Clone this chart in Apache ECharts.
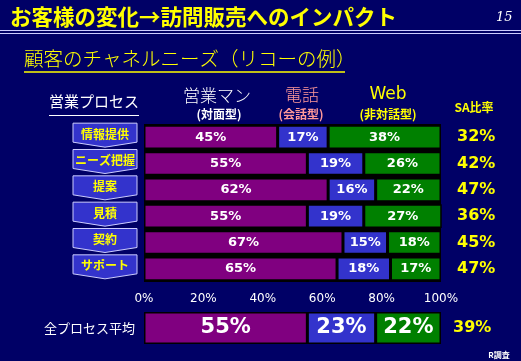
<!DOCTYPE html>
<html><head><meta charset="utf-8">
<script src="https://cdn.jsdelivr.net/npm/echarts@6/dist/echarts.min.js"></script>
<style>html,body{margin:0;padding:0;background:#000066;}#c{width:521px;height:361px;}</style>
</head><body><div id="c"></div>
<script>
const categories = ['情報提供','ニーズ把握','提案','見積','契約','サポート'];
const faceToFace = [45,55,62,55,67,65];
const phone = [17,19,16,19,15,18];
const web = [38,26,22,27,18,17];
const saRatio = [32,42,47,36,45,47];
const avgCategory = ['全プロセス平均'];
const avgFace = [55];
const avgPhone = [23];
const avgWeb = [22];
const avgSA = [39];
const xMin = 0, xMax = 100, xInterval = 20;

const JP = '"Noto Sans CJK JP", sans-serif';
const NUM = '"DejaVu Sans", sans-serif';
const pct = v => v + '%';

const chart = echarts.init(document.getElementById('c'), null, {renderer:'canvas'});

function barSeries(name, data, color, xi, yi, fs) {
  return {
    type:'bar', name, data, stack: 'g'+xi, xAxisIndex:xi, yAxisIndex:yi,
    barCategoryGap: xi === 0 ? '10%' : '0%',
    itemStyle:{color, borderColor:'#000', borderWidth:1.5},
    label:{show:true, position:'inside', formatter: p => pct(p.value),
      color:'#fff', fontFamily:NUM, fontWeight:'bold', fontSize:fs},
    emphasis:{disabled:true}, animation:false
  };
}

const option = {
  backgroundColor:'#000066',
  animation:false,
  textStyle:{fontFamily:JP},
  grid:[
    {left:144, right:80, top:124, height:158, show:true, backgroundColor:'#000', borderWidth:0},
    {left:144, right:80, top:312, height:32, show:true, backgroundColor:'#000', borderWidth:0}
  ],
  xAxis:[
    {gridIndex:0, type:'value', min:xMin, max:xMax, interval:xInterval,
     axisLine:{show:false}, axisTick:{show:false}, splitLine:{show:false},
     axisLabel:{color:'#fff', fontFamily:NUM, fontSize:12, margin:11, formatter:'{value}%'}},
    {gridIndex:1, type:'value', min:xMin, max:xMax, show:false}
  ],
  yAxis:[
    {gridIndex:0, type:'category', data:categories, inverse:true, axisLabel:{show:false},
     axisLine:{show:false}, axisTick:{show:false}},
    {gridIndex:0, type:'category', data:saRatio.map(pct), inverse:true, position:'right',
     axisLine:{show:false}, axisTick:{show:false},
     axisLabel:{color:'#ffff00', fontFamily:NUM, fontWeight:'bold', fontSize:16, margin:16, align:'left'}},
    {gridIndex:1, type:'category', data:avgCategory,
     axisLine:{show:false}, axisTick:{show:false},
     axisLabel:{color:'#fff', fontFamily:JP, fontSize:13, margin:9}},
    {gridIndex:1, type:'category', data:avgSA.map(pct), position:'right',
     axisLine:{show:false}, axisTick:{show:false},
     axisLabel:{color:'#ffff00', fontFamily:NUM, fontWeight:'bold', fontSize:16, margin:12, align:'left'}}
  ],
  series:[
    barSeries('営業マン', faceToFace, '#800080', 0, 0, 13),
    barSeries('電話', phone, '#3333cc', 0, 0, 13),
    barSeries('Web', web, '#008000', 0, 0, 13),
    barSeries('営業マン', avgFace, '#800080', 1, 2, 21),
    barSeries('電話', avgPhone, '#3333cc', 1, 2, 21),
    barSeries('Web', avgWeb, '#008000', 1, 2, 21),
    {
      type:'custom', xAxisIndex:0, yAxisIndex:0, clip:false, silent:true, z:5,
      data: categories.map((c,i)=>[0,i]),
      encode:{x:0, y:1},
      renderItem:function(params, api){
        const p = api.coord([0, api.value(1)]);
        const x0 = p[0]-71, x1 = p[0]-7, yc = p[1], xm = (x0+x1)/2;
        return {type:'group', children:[
          {type:'polygon', shape:{points:[[x0,yc-14],[x1,yc-14],[x1,yc+5],[xm,yc+10],[x0,yc+5]]},
           style:{fill:'#3333cc', stroke:'#ccccff', lineWidth:1}},
          {type:'text', style:{text:categories[params.dataIndex], x:xm, y:yc-3, align:'center', verticalAlign:'middle',
           fill:'#ffff00', font:'bold 12px "Noto Sans CJK JP"'}}
        ]};
      }
    }
  ],
  graphic:[
    {type:'text', left:10, top:6, style:{text:'お客様の変化→訪問販売へのインパクト', fill:'#ffff00', font:'bold 21.5px "Noto Sans CJK JP"'}},
    {type:'text', left:496, top:11, style:{text:'15', fill:'#fff', font:'italic 13px "DejaVu Serif"'}},
    {type:'line', shape:{x1:0,y1:30.5,x2:521,y2:30.5}, style:{stroke:'#ccccff', lineWidth:1.2}},
    {type:'line', shape:{x1:0,y1:33.5,x2:521,y2:33.5}, style:{stroke:'#ccccff', lineWidth:1.2}},
    {type:'text', left:24, top:49, style:{text:'顧客のチャネルニーズ（リコーの例）', fill:'#ffff00', font:'300 19.5px "Noto Sans CJK JP"'}},
    {type:'line', shape:{x1:24,y1:72,x2:345,y2:72}, style:{stroke:'#ffff00', lineWidth:1.5}},
    {type:'text', left:49, top:94, style:{text:'営業プロセス', fill:'#fff', font:'15px "Noto Sans CJK JP"'}},
    {type:'line', shape:{x1:49,y1:115.5,x2:139,y2:115.5}, style:{stroke:'#fff', lineWidth:1.2}},
    {type:'text', x:217, y:96, style:{text:'営業マン', fill:'#fff', font:'300 17px "Noto Sans CJK JP"', align:'center', verticalAlign:'middle'}},
    {type:'text', x:219, y:114, style:{text:'(対面型)', fill:'#fff', font:'bold 12px "Noto Sans CJK JP"', align:'center', verticalAlign:'middle'}},
    {type:'text', x:302, y:95, style:{text:'電話', fill:'#ff9999', font:'300 17px "Noto Sans CJK JP"', align:'center', verticalAlign:'middle'}},
    {type:'text', x:301, y:114, style:{text:'(会話型)', fill:'#ff9999', font:'bold 12px "Noto Sans CJK JP"', align:'center', verticalAlign:'middle'}},
    {type:'text', x:388, y:95, style:{text:'Web', fill:'#ffff00', font:'17px "DejaVu Sans"', align:'center', verticalAlign:'middle'}},
    {type:'text', x:388, y:114, style:{text:'(非対話型)', fill:'#ffff00', font:'bold 12px "Noto Sans CJK JP"', align:'center', verticalAlign:'middle'}},
    {type:'text', x:474, y:107, style:{text:'SA比率', fill:'#ffff00', font:'bold 12px "Noto Sans CJK JP"', align:'center', verticalAlign:'middle'}},
    {type:'text', x:499, y:355, style:{text:'R調査', fill:'#fff', font:'bold 8px "Noto Sans CJK JP"', align:'center', verticalAlign:'middle'}}
  ]
};
chart.setOption(option);
</script></body></html>
